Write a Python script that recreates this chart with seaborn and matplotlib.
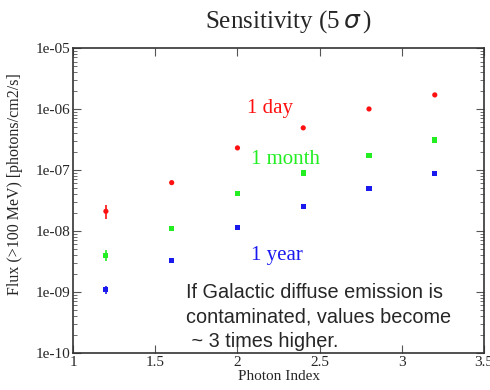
import numpy as np
import pandas as pd
import matplotlib
matplotlib.use("Agg")
import matplotlib.pyplot as plt
import seaborn as sns

# data
photon_index = [1.2, 1.6, 2.0, 2.4, 2.8, 3.2]
flux_1day = [2.1e-8, 6.2e-8, 2.3e-7, 4.9e-7, 1.0e-6, 1.7e-6]
flux_1month = [4.0e-9, 1.1e-8, 4.1e-8, 8.9e-8, 1.75e-7, 3.1e-7]
flux_1year = [1.1e-9, 3.3e-9, 1.15e-8, 2.5e-8, 4.9e-8, 8.8e-8]
# fractional error on each point (only the softest index shows a visible bar)
err_1day = [0.25, 0.03, 0.02, 0.02, 0.02, 0.02]
err_1month = [0.2, 0.03, 0.02, 0.02, 0.02, 0.02]
err_1year = [0.15, 0.05, 0.02, 0.02, 0.02, 0.02]

series = ["1 day", "1 month", "1 year"]
colors = {"1 day": "#ff1010", "1 month": "#22ee22", "1 year": "#1a1aee"}
markers = {"1 day": "o", "1 month": "s", "1 year": "s"}

rows = []
for name, fl, er in zip(series, [flux_1day, flux_1month, flux_1year],
                        [err_1day, err_1month, err_1year]):
    for x, y, e in zip(photon_index, fl, er):
        rows.append({"index": x, "flux": y, "err": e * y, "series": name})
df = pd.DataFrame(rows)

sns.set_style("ticks")
plt.rcParams["font.family"] = ["Liberation Serif", "DejaVu Serif"]

fig = plt.figure(figsize=(4.9, 3.9), dpi=100)
ax = fig.add_axes([0.149, 0.095, 0.839, 0.782])

for name in series:
    sub = df[df["series"] == name]
    ax.errorbar(sub["index"], sub["flux"], yerr=sub["err"], fmt="none",
                ecolor=colors[name], elinewidth=1.2, capsize=0, zorder=2)

sns.scatterplot(data=df, x="index", y="flux", hue="series", style="series",
                palette=colors, markers=markers, s=14, linewidth=0,
                legend=False, ax=ax, zorder=3)

ax.set_yscale("log")
ax.set_xlim(1, 3.5)
ax.set_ylim(1e-10, 1e-5)
ax.set_xticks([1, 1.5, 2, 2.5, 3, 3.5])
ax.set_xticklabels(["1", "1.5", "2", "2.5", "3", "3.5"])
ax.set_yticks([1e-10, 1e-9, 1e-8, 1e-7, 1e-6, 1e-5])
ax.set_yticklabels(["1e-10", "1e-09", "1e-08", "1e-07", "1e-06", "1e-05"])
ax.minorticks_on()
ax.xaxis.set_minor_locator(matplotlib.ticker.NullLocator())
ax.tick_params(which="both", direction="in", top=True, right=True,
               labelsize=11, color="#555555", pad=2)
ax.tick_params(which="major", length=6)
ax.tick_params(which="minor", length=3)
for sp in ax.spines.values():
    sp.set_color("#333333")
    sp.set_linewidth(1.2)

ax.set_xlabel("Photon Index", fontsize=11, labelpad=1)
ax.set_ylabel("Flux (>100 MeV) [photons/cm2/s]", fontsize=11.5)
ax.yaxis.set_label_coords(-0.122, 0.555)
fig.text(0.59, 0.945, "Sensitivity (5$\\,\\sigma\\,$)", ha="center",
         va="center", fontsize=18)

ax.text(2.06, 1.0e-6, "1 day", color=colors["1 day"], fontsize=15,
        ha="left", va="center")
ax.text(2.08, 1.5e-7, "1 month", color=colors["1 month"], fontsize=15,
        ha="left", va="center")
ax.text(2.08, 4.0e-9, "1 year", color=colors["1 year"], fontsize=15,
        ha="left", va="center")

ax.text(1.69, 1.4e-9, "If Galactic diffuse emission is\ncontaminated, values become\n ~ 3 times higher.",
        fontsize=14.3, family=["Liberation Sans", "DejaVu Sans"],
        ha="left", va="top", linespacing=1.35)

fig.savefig("out.png", dpi=100)
